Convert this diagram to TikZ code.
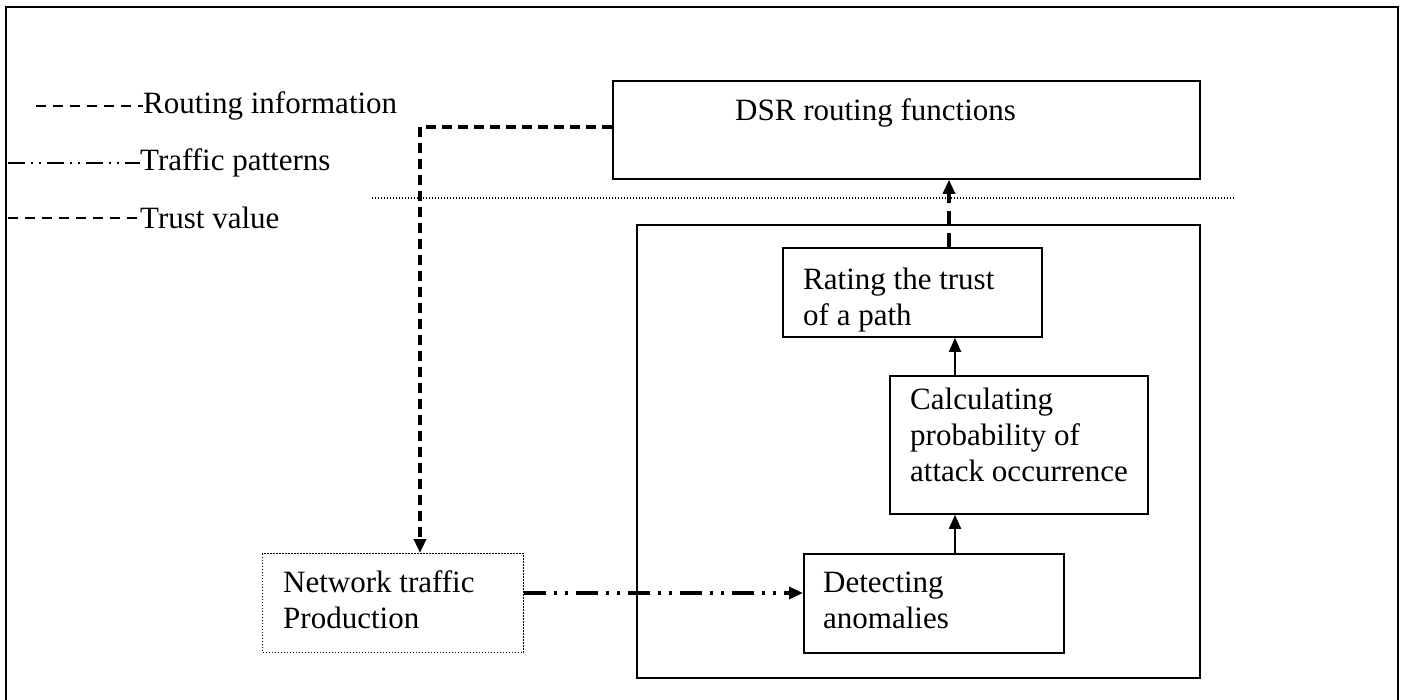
\documentclass[tikz,border=0pt]{standalone}
\usepackage{fontspec}
\setmainfont{Liberation Serif}
\usetikzlibrary{arrows.meta}
\begin{document}
\begin{tikzpicture}[x=1pt,y=-1pt,
  font=\fontsize{31}{36}\selectfont,
  box/.style={draw, line width=1.8pt, anchor=north west, inner sep=0pt},
  dotbox/.style={draw, line width=1.3pt, dash pattern=on 1.4pt off 1.6pt, anchor=north west, inner sep=0pt},
  txt/.style={anchor=west, align=left, inner sep=0pt},
  tip/.style={-{Triangle[length=14pt,width=12pt]}},
  routing/.style={tip, line width=3.2pt, dash pattern=on 10pt off 6pt},
  traffic/.style={tip, line width=3.2pt, dash pattern=on 22pt off 8pt on 3pt off 8pt on 3pt off 8pt},
  trust/.style={tip, line width=3.2pt, dash pattern=on 14pt off 8pt},
  solidarrow/.style={tip, line width=1.8pt},
  legdash/.style={line width=1.8pt, dash pattern=on 10pt off 7pt},
  legtraffic/.style={line width=1.8pt, dash pattern=on 17pt off 6pt on 2pt off 6pt on 2pt off 6pt}
]
\useasboundingbox (0,0) rectangle (1406,700);
% outer frame
\draw[line width=2.4pt] (6,700) -- (6,7) -- (1398,7) -- (1398,700);
% separator
\draw[line width=1.2pt, dash pattern=on 1.2pt off 1.8pt] (372,198) -- (1234,198);

% boxes
\node[box, minimum width=587pt, minimum height=98pt] (dsr) at (612,80) {};
\node[box, minimum width=563pt, minimum height=453pt] (outer) at (636,224) {};
\node[box, minimum width=259pt, minimum height=89pt] (rating) at (782,247) {};
\node[box, minimum width=258pt, minimum height=138pt] (calc) at (889,375) {};
\node[box, minimum width=260pt, minimum height=99pt] (detect) at (803,553) {};
\node[dotbox, minimum width=261pt, minimum height=99pt] (net) at (262,553) {};

% texts
\node[txt] (tdsr) at (735,113) {DSR routing functions};
\node[txt] (trating) at (803,300) {Rating the trust\\of a path};
\node[txt] (tcalc) at (910,435) {Calculating\\probability of\\attack occurrence};
\node[txt] (tdetect) at (823,600) {Detecting\\anomalies};
\node[txt] (tnet) at (283,600) {Network traffic\\Production};

% legend
\node[txt] (lg1) at (143,106) {Routing information};
\node[txt] (lg2) at (140,163) {Traffic patterns};
\node[txt] (lg3) at (140,218) {Trust value};
\coordinate (l1) at (36,106);
\coordinate (l2) at (8,163);
\coordinate (l3) at (8,218);
\draw[legdash] (l1) -- (lg1.west);
\draw[legtraffic] (l2) -- (lg2.west);
\draw[legdash] (l3) -- (lg3.west);

% connectors
\coordinate (xa) at (955,0);
\coordinate (xt) at (949,0);
\coordinate (xr) at (420,0);
\draw[routing] (dsr.west |- 0,127) -| (xr |- net.north);
\draw[traffic] (net.east |- 0,593) -- (detect.west |- 0,593);
\draw[solidarrow] (detect.north -| xa) -- (calc.south -| xa);
\draw[solidarrow] (calc.north -| xa) -- (rating.south -| xa);
\draw[trust] (rating.north -| xt) -- (dsr.south -| xt);
\end{tikzpicture}
\end{document}
